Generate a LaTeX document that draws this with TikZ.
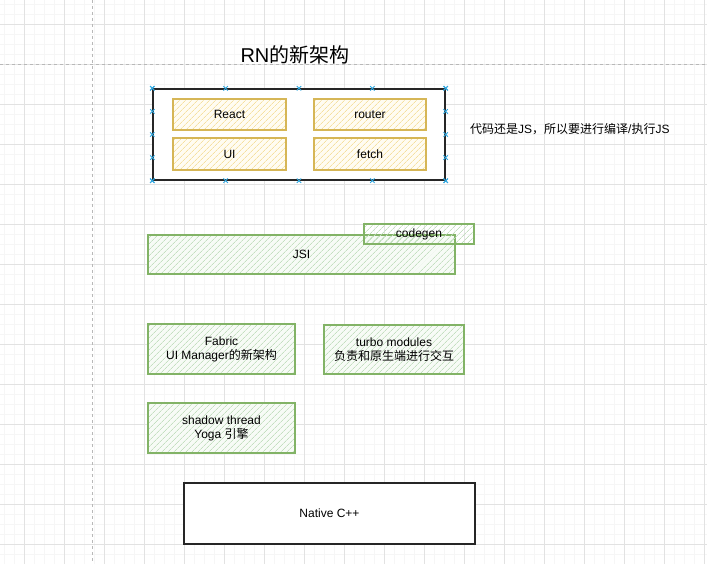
\documentclass[tikz,border=0pt]{standalone}
\usepackage{fontspec}
\setmainfont{Liberation Sans}
\newfontfamily\cjk{Noto Sans CJK SC}
\usetikzlibrary{patterns.meta,calc}
\definecolor{ystroke}{HTML}{D6B656}
\definecolor{ystripe}{HTML}{F5E0A0}
\definecolor{yback}{HTML}{FFFCF2}
\definecolor{gstroke}{HTML}{82B366}
\definecolor{gstripe}{HTML}{C4DFC0}
\definecolor{gback}{HTML}{F7FBF6}
\definecolor{minorgrid}{HTML}{F6F6F6}
\definecolor{majorgrid}{HTML}{E2E2E2}
\definecolor{guide}{HTML}{B8B8B8}
\definecolor{selblue}{HTML}{2FA7E0}
\tikzset{
  box/.style={rectangle, inner sep=0pt, align=center, font=\fontsize{12}{14}\selectfont},
  yellowbox/.style={box, draw=ystroke, line width=1.2pt, preaction={fill=yback},
    pattern={Lines[angle=45,distance=4pt,line width=0.8pt]}, pattern color=ystripe},
  greenbox/.style={box, draw=gstroke, line width=1.2pt, preaction={fill=gback},
    pattern={Lines[angle=45,distance=4pt,line width=0.8pt]}, pattern color=gstripe},
  greenclear/.style={box, draw=gstroke, line width=1.2pt,
    pattern={Lines[angle=45,distance=4pt,line width=0.8pt]}, pattern color=gstripe},
  blackbox/.style={box, draw=black!85, line width=1.4pt, fill=white},
  xmarker/.pic={\draw[selblue, line width=0.9pt] (-2.2,-2.2) -- (2.2,2.2) (-2.2,2.2) -- (2.2,-2.2);},
}
\begin{document}
\begin{tikzpicture}[x=1pt,y=-1pt]
\useasboundingbox (0,0) rectangle (707,564);
\fill[white] (0,0) rectangle (707,564);
% grid
\foreach \v in {4,14,...,704} {
  \draw[minorgrid, line width=0.6pt] (\v,0) -- (\v,564);
}
\foreach \v in {4,14,...,564} {
  \draw[minorgrid, line width=0.6pt] (0,\v) -- (707,\v);
}
\foreach \v in {24,64,...,704} {
  \draw[majorgrid, line width=0.8pt] (\v,0) -- (\v,564);
}
\foreach \v in {24,64,...,544} {
  \draw[majorgrid, line width=0.8pt] (0,\v) -- (707,\v);
}
\draw[guide, dash pattern=on 3pt off 3pt, line width=0.7pt] (92,0) -- (92,564);
\draw[guide, dash pattern=on 3pt off 3pt, line width=0.7pt] (0,64.5) -- (707,64.5);

% title
\node[inner sep=0pt, font=\fontsize{20}{24}\selectfont] (title) at (295,55) {RN{\cjk 的新架构}};

% outer container
\node[blackbox, minimum width=292pt, minimum height=91pt] (outer) at (299,134.5) {};
\node[yellowbox, minimum width=113pt, minimum height=31pt] (react) at (229.5,114.5) {React};
\node[yellowbox, minimum width=112pt, minimum height=31pt] (router) at (370,114.5) {router};
\node[yellowbox, minimum width=113pt, minimum height=32pt] (ui) at (229.5,154) {UI};
\node[yellowbox, minimum width=112pt, minimum height=32pt] (fetch) at (370,154) {fetch};

% selection markers
\foreach \t in {0,0.25,0.5,0.75,1} {
  \path ($(outer.north west)!\t!(outer.north east)$) pic {xmarker};
  \path ($(outer.south west)!\t!(outer.south east)$) pic {xmarker};
  \path ($(outer.north west)!\t!(outer.south west)$) pic {xmarker};
  \path ($(outer.north east)!\t!(outer.south east)$) pic {xmarker};
}

\node[anchor=west, inner sep=0pt, font=\fontsize{12}{14}\selectfont] (note) at (470,129) {{\cjk 代码还是}JS{\cjk ，所以要进行编译}/{\cjk 执行}JS};

% JSI + codegen
\node[greenbox, minimum width=307pt, minimum height=39pt] (jsi) at (301.5,254.5) {JSI};
\node[greenclear, minimum width=110pt, minimum height=20pt] (codegen) at (419,234) {codegen};

% modules
\node[greenbox, minimum width=147pt, minimum height=50pt] (fabric) at (221.5,349) {Fabric\\UI Manager{\cjk 的新架构}};
\node[greenbox, minimum width=140pt, minimum height=49pt] (turbo) at (394,349.5) {turbo modules\\{\cjk 负责和原生端进行交互}};
\node[greenbox, minimum width=147pt, minimum height=50pt] (shadow) at (221.5,428) {shadow thread\\Yoga {\cjk 引擎}};

% native
\node[blackbox, minimum width=291pt, minimum height=61pt] (native) at (329.5,513.5) {Native C++};
\end{tikzpicture}
\end{document}
